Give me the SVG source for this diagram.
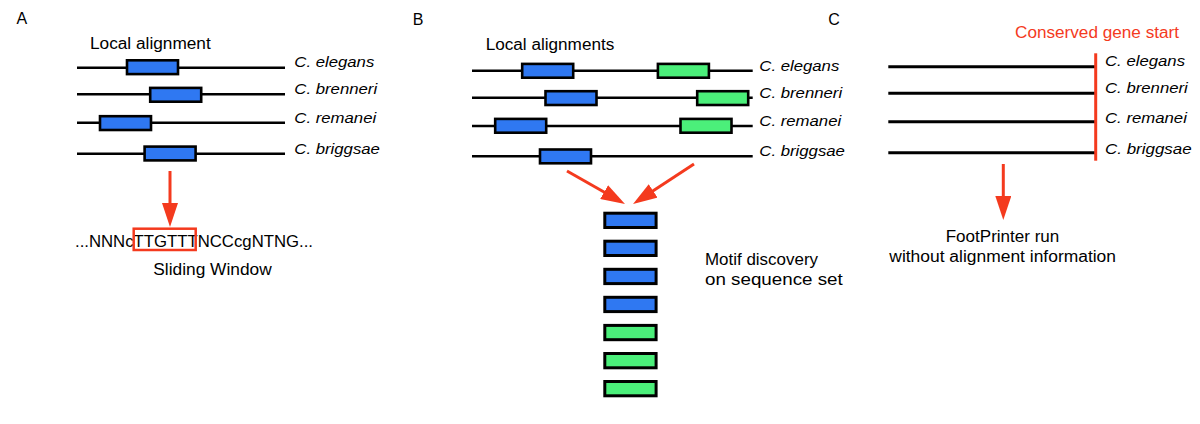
<svg xmlns="http://www.w3.org/2000/svg" width="1200" height="424" viewBox="0 0 1200 424">
<style>
text{font-family:"Liberation Sans",Arial,Helvetica,sans-serif;fill:#000;}
.t{font-size:16px;}
.sp{font-size:15px;font-style:italic;}
.red{fill:#f43a1e;}
.seq{stroke:#000;stroke-width:2.6;fill:none;}
.seqc{stroke:#000;stroke-width:3;fill:none;}
.b{fill:#2f78f2;stroke:#000;stroke-width:2.6;}
.g{fill:#4bef7a;stroke:#000;stroke-width:2.6;}
.sb{fill:#2f78f2;stroke:#000;stroke-width:3;}
.sg{fill:#4bef7a;stroke:#000;stroke-width:3;}
.arr{stroke:#f43a1e;stroke-width:3;fill:none;marker-end:url(#ah);}
</style>
<defs>
<marker id="ah" markerUnits="userSpaceOnUse" markerWidth="24" markerHeight="16" refX="14" refY="8" orient="auto" viewBox="0 0 24 16">
<path d="M0,0 L24,8 L0,16 z" fill="#f43a1e"/>
</marker>
</defs>
<rect width="1200" height="424" fill="#fff"/>

<g id="panel-a">
<text class="t" x="16.5" y="24">A</text>
<text class="t" x="90" y="49" textLength="120.7" lengthAdjust="spacingAndGlyphs">Local alignment</text>
<g id="a-elegans"><line class="seq" x1="77" y1="67.7" x2="285" y2="67.7"/><rect class="b" x="127" y="60.3" width="51" height="13.8"/><text class="sp" x="294.3" y="67.3" textLength="80" lengthAdjust="spacingAndGlyphs">C. elegans</text></g>
<g id="a-brenneri"><line class="seq" x1="77" y1="94.3" x2="285" y2="94.3"/><rect class="b" x="150.2" y="87.9" width="51" height="13.8"/><text class="sp" x="294.3" y="94.3" textLength="82.8" lengthAdjust="spacingAndGlyphs">C. brenneri</text></g>
<g id="a-remanei"><line class="seq" x1="77" y1="122.7" x2="285" y2="122.7"/><rect class="b" x="100" y="116.2" width="51" height="13.8"/><text class="sp" x="294.3" y="123" textLength="81.9" lengthAdjust="spacingAndGlyphs">C. remanei</text></g>
<g id="a-briggsae"><line class="seq" x1="77" y1="153.7" x2="285" y2="153.7"/><rect class="b" x="144.6" y="146.6" width="51" height="13.8"/><text class="sp" x="294.3" y="154" textLength="85.6" lengthAdjust="spacingAndGlyphs">C. briggsae</text></g>
<g id="a-window">
<text class="t" x="75" y="247" textLength="238" lengthAdjust="spacingAndGlyphs">...NNNcTTGTTTNCCcgNTNG...</text>
<rect x="133.7" y="228.7" width="62" height="21.3" fill="none" stroke="#f43a1e" stroke-width="2.5"/>
<text class="t" x="153.3" y="275" textLength="118.4" lengthAdjust="spacingAndGlyphs">Sliding Window</text>
</g>
</g>

<g id="panel-b">
<text class="t" x="412.7" y="25">B</text>
<text class="t" x="485.7" y="50" textLength="128.6" lengthAdjust="spacingAndGlyphs">Local alignments</text>
<g id="b-elegans"><line class="seq" x1="472" y1="70.7" x2="752.7" y2="70.7"/><rect class="b" x="522.2" y="63.9" width="51" height="13.8"/><rect class="g" x="657.9" y="63.9" width="51" height="13.8"/><text class="sp" x="759.3" y="70.7" textLength="80" lengthAdjust="spacingAndGlyphs">C. elegans</text></g>
<g id="b-brenneri"><line class="seq" x1="472" y1="97.7" x2="752.7" y2="97.7"/><rect class="b" x="545.5" y="91.2" width="51" height="13.8"/><rect class="g" x="697.2" y="91.2" width="51" height="13.8"/><text class="sp" x="759.3" y="97.7" textLength="82.8" lengthAdjust="spacingAndGlyphs">C. brenneri</text></g>
<g id="b-remanei"><line class="seq" x1="472" y1="126" x2="752.7" y2="126"/><rect class="b" x="495.2" y="118.9" width="51" height="13.8"/><rect class="g" x="680.5" y="118.9" width="51" height="13.8"/><text class="sp" x="759.3" y="126" textLength="81.9" lengthAdjust="spacingAndGlyphs">C. remanei</text></g>
<g id="b-briggsae"><line class="seq" x1="472" y1="156.3" x2="752.7" y2="156.3"/><rect class="b" x="540" y="149.5" width="51" height="13.8"/><text class="sp" x="759.3" y="156.3" textLength="85.6" lengthAdjust="spacingAndGlyphs">C. briggsae</text></g>
<g id="b-set">
<rect class="sb" x="604.8" y="213.2" width="51.3" height="14.3"/>
<rect class="sb" x="604.8" y="241.2" width="51.3" height="14.3"/>
<rect class="sb" x="604.8" y="269.3" width="51.3" height="14.3"/>
<rect class="sb" x="604.8" y="297.3" width="51.3" height="14.3"/>
<rect class="sg" x="604.8" y="325.4" width="51.3" height="14.3"/>
<rect class="sg" x="604.8" y="353.5" width="51.3" height="14.3"/>
<rect class="sg" x="604.8" y="381.5" width="51.3" height="14.3"/>
</g>
<text class="t" x="705" y="265" textLength="113" lengthAdjust="spacingAndGlyphs">Motif discovery</text>
<text class="t" x="705" y="284.5" textLength="137.7" lengthAdjust="spacingAndGlyphs">on sequence set</text>
</g>

<g id="panel-c">
<text class="t" x="828.3" y="25">C</text>
<text class="t red" x="1015" y="38.3" textLength="164" lengthAdjust="spacingAndGlyphs">Conserved gene start</text>
<g id="c-elegans"><line class="seqc" x1="888.3" y1="66.7" x2="1095" y2="66.7"/><text class="sp" x="1105" y="65.5" textLength="80" lengthAdjust="spacingAndGlyphs">C. elegans</text></g>
<g id="c-brenneri"><line class="seqc" x1="888.3" y1="93.3" x2="1095" y2="93.3"/><text class="sp" x="1105" y="93" textLength="82.8" lengthAdjust="spacingAndGlyphs">C. brenneri</text></g>
<g id="c-remanei"><line class="seqc" x1="888.3" y1="121.7" x2="1095" y2="121.7"/><text class="sp" x="1105" y="122.5" textLength="81.9" lengthAdjust="spacingAndGlyphs">C. remanei</text></g>
<g id="c-briggsae"><line class="seqc" x1="888.3" y1="152.7" x2="1095" y2="152.7"/><text class="sp" x="1105" y="153.5" textLength="86.7" lengthAdjust="spacingAndGlyphs">C. briggsae</text></g>
<line id="c-start" x1="1095.7" y1="53.3" x2="1095.7" y2="160.7" stroke="#f43a1e" stroke-width="3"/>
<text class="t" x="945.7" y="242.3" textLength="113.6" lengthAdjust="spacingAndGlyphs">FootPrinter run</text>
<text class="t" x="889.3" y="262" textLength="226.7" lengthAdjust="spacingAndGlyphs">without alignment information</text>
</g>

<g id="connectors">
<line class="arr" x1="170" y1="171" x2="170" y2="217"/>
<line class="arr" x1="567" y1="171" x2="616.3" y2="199"/>
<line class="arr" x1="694" y1="164" x2="641.4" y2="198.5"/>
<line class="arr" x1="1003.3" y1="164" x2="1003.3" y2="210"/>
</g>
</svg>
